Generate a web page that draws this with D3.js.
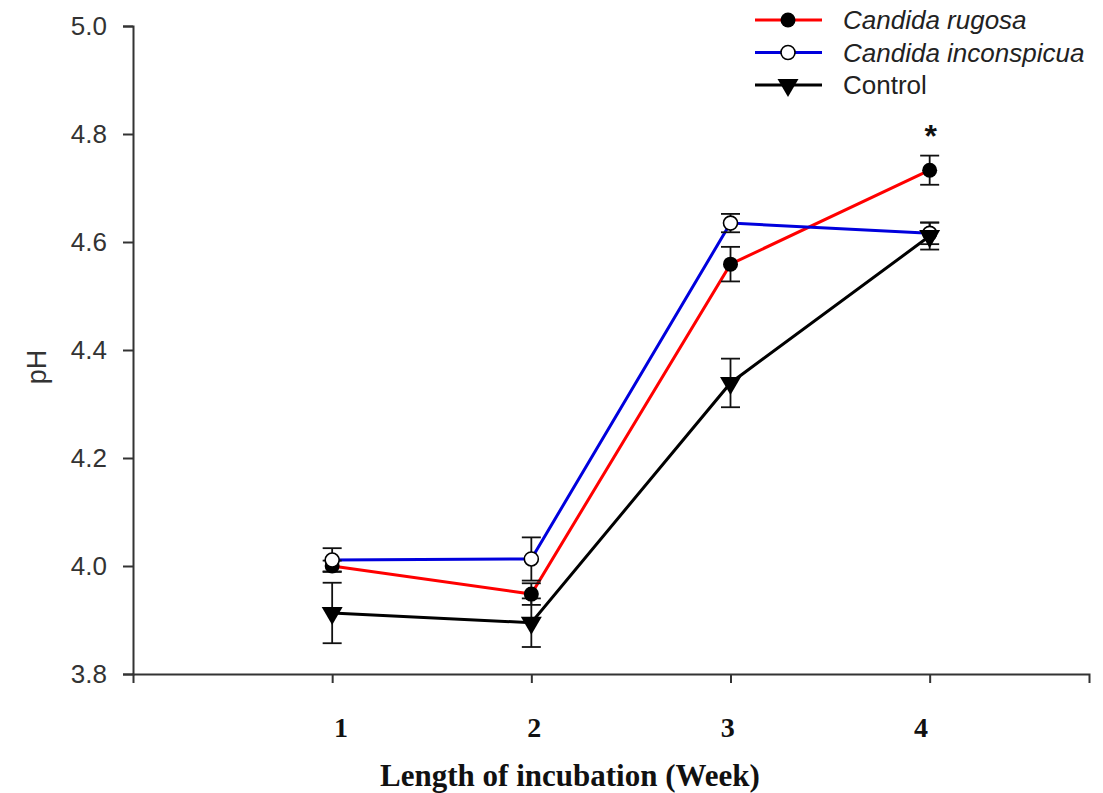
<!DOCTYPE html>
<html><head><meta charset="utf-8">
<script src="https://cdn.jsdelivr.net/npm/d3@7"></script>
<style>body{margin:0;background:#fff}</style>
</head><body>
<svg id="c" width="1103" height="793"></svg>
<script>
const weeks = [1, 2, 3, 4];
const seriesNames = ["Candida rugosa", "Candida inconspicua", "Control"];
const rugosa = [4.00, 3.948, 4.559, 4.733];
const rugosaErr = [0.01, 0.02, 0.032, 0.027];
const inconspicua = [4.011, 4.013, 4.635, 4.616];
const inconspicuaErr = [0.022, 0.04, 0.017, 0.02];
const control = [3.913, 3.895, 4.339, 4.611];
const controlErr = [0.056, 0.045, 0.045, 0.025];
const yTicks = [3.8, 4.0, 4.2, 4.4, 4.6, 4.8, 5.0];
const xTickLabels = ["1", "2", "3", "4"];

const svg = d3.select("#c");
const x = d3.scaleLinear().domain([0, 4.8]).range([133, 1089]);
const xLab = d3.scaleLinear().domain([1, 4]).range([341, 921]);
const y = d3.scaleLinear().domain([3.8, 5.0]).range([674, 26]);
const SANS = "Liberation Sans, Arial, sans-serif";
const SERIF = "Liberation Serif, Times New Roman, serif";

// axes
const yAxis = svg.append("g").attr("transform", "translate(133,0)")
  .call(d3.axisLeft(y).tickValues(yTicks).tickFormat(d3.format(".1f")).tickSizeOuter(0).tickSize(10).tickPadding(16));
yAxis.select(".domain").attr("stroke", "#333").attr("stroke-width", 2);
yAxis.selectAll(".tick line").attr("stroke", "#333").attr("stroke-width", 2);
yAxis.selectAll(".tick text").attr("font-family", SANS).attr("font-size", 26).attr("fill", "#333");

const xAxis = svg.append("g").attr("transform", "translate(0,674)")
  .call(d3.axisBottom(x).tickValues(weeks).tickSizeOuter(0).tickSize(9).tickFormat(""));
xAxis.select(".domain").attr("stroke", "#333").attr("stroke-width", 2);
xAxis.selectAll(".tick line").attr("stroke", "#333").attr("stroke-width", 2);

svg.append("g").selectAll("text").data(weeks).join("text")
  .attr("x", d => xLab(d)).attr("y", 737)
  .attr("text-anchor", "middle")
  .attr("font-family", SERIF)
  .attr("font-weight", "bold").attr("font-size", 28).attr("fill", "#111")
  .text((d, i) => xTickLabels[i]);

svg.append("text").attr("x", 570).attr("y", 786).attr("text-anchor", "middle")
  .attr("font-family", SERIF)
  .attr("font-weight", "bold").attr("font-size", 31).attr("fill", "#111")
  .text("Length of incubation (Week)");

svg.append("text").attr("transform", "translate(46,367) rotate(-90)").attr("text-anchor", "middle")
  .attr("font-family", SANS).attr("font-size", 27).attr("fill", "#333")
  .text("pH");

const series = [
  {name: seriesNames[0], vals: rugosa, err: rugosaErr, color: "#ff0000", marker: "filled"},
  {name: seriesNames[1], vals: inconspicua, err: inconspicuaErr, color: "#0000dd", marker: "open"},
  {name: seriesNames[2], vals: control, err: controlErr, color: "#000000", marker: "tri"}
];

const line = d3.line().x(d => x(d[0])).y(d => y(d[1]));
const triPath = d3.symbol().type(d3.symbolTriangle).size(190);

function drawMarker(g, m, cx, cy) {
  if (m === "filled") g.append("circle").attr("cx", cx).attr("cy", cy).attr("r", 7.5).attr("fill", "#000");
  else if (m === "open") g.append("circle").attr("cx", cx).attr("cy", cy).attr("r", 7).attr("fill", "#fff").attr("stroke", "#000").attr("stroke-width", 1.6);
  else g.append("path").attr("d", triPath()).attr("transform", `translate(${cx},${cy}) rotate(180)`).attr("fill", "#000");
}

const order = [2, 0, 1];
order.forEach(i => {
  const s = series[i];
  svg.append("path").datum(weeks.map((w, j) => [w, s.vals[j]]))
    .attr("d", line).attr("fill", "none").attr("stroke", s.color).attr("stroke-width", 3);
});
order.forEach(i => {
  const s = series[i];
  const g = svg.append("g").attr("stroke", "#111").attr("stroke-width", 1.8);
  weeks.forEach((w, j) => {
    const cx = x(w), lo = y(s.vals[j] - s.err[j]), hi = y(s.vals[j] + s.err[j]);
    g.append("line").attr("x1", cx).attr("x2", cx).attr("y1", lo).attr("y2", hi);
    g.append("line").attr("x1", cx - 9.5).attr("x2", cx + 9.5).attr("y1", lo).attr("y2", lo);
    g.append("line").attr("x1", cx - 9.5).attr("x2", cx + 9.5).attr("y1", hi).attr("y2", hi);
  });
});
[0, 1, 2].forEach(i => {
  const s = series[i];
  const g = svg.append("g");
  weeks.forEach((w, j) => drawMarker(g, s.marker, x(w), y(s.vals[j])));
});

svg.append("text").attr("x", x(4) + 1).attr("y", 147).attr("text-anchor", "middle")
  .attr("font-family", SANS).attr("font-weight", "bold").attr("font-size", 32).attr("fill", "#111").text("*");

const leg = svg.append("g");
series.forEach((s, i) => {
  const ly = 20 + i * 32.5;
  leg.append("line").attr("x1", 755).attr("x2", 822).attr("y1", ly).attr("y2", ly).attr("stroke", s.color).attr("stroke-width", 3);
  drawMarker(leg, s.marker, 788, ly);
  leg.append("text").attr("x", 843).attr("y", ly + 9)
    .attr("font-family", SANS).attr("font-size", 26)
    .attr("font-style", i < 2 ? "italic" : "normal").attr("fill", "#222").text(s.name);
});
</script>
</body></html>
